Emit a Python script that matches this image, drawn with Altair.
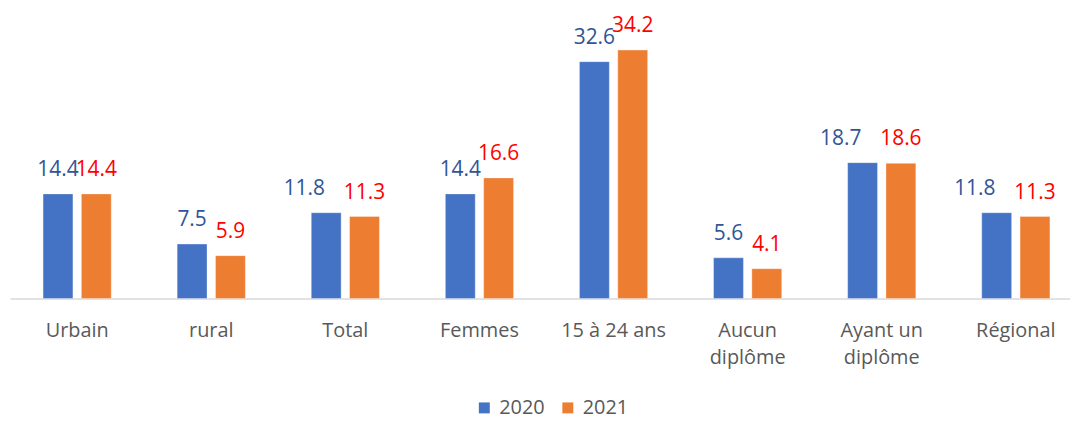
import altair as alt
import pandas as pd

categories = ["Urbain", "rural", "Total", "Femmes", "15 à 24 ans",
              "Aucun diplôme", "Ayant un diplôme", "Régional"]
values_2020 = [14.4, 7.5, 11.8, 14.4, 32.6, 5.6, 18.7, 11.8]
values_2021 = [14.4, 5.9, 11.3, 16.6, 34.2, 4.1, 18.6, 11.3]
years = ["2020", "2021"]
bar_colors = ["#4472C4", "#ED7D31"]
label_colors = ["#2F5597", "#FF0000"]
# 2020 labels that the original nudged to the left to avoid overlap
nudged_2020 = ["Total", "Ayant un diplôme", "Régional"]

rows = []
for c, v0, v1 in zip(categories, values_2020, values_2021):
    rows.append({"cat": c, "year": years[0], "value": v0, "label": f"{v0:.1f}",
                 "nudge": c in nudged_2020})
    rows.append({"cat": c, "year": years[1], "value": v1, "label": f"{v1:.1f}",
                 "nudge": False})
df = pd.DataFrame(rows)

FONT = "Open Sans"

label_expr = ("datum.value == 'Aucun diplôme' ? ['Aucun', 'diplôme'] : "
              "datum.value == 'Ayant un diplôme' ? ['Ayant un', 'diplôme'] : datum.value")

x_enc = alt.X("cat:N", sort=categories, title=None,
              scale=alt.Scale(paddingInner=0.48, paddingOuter=0.1924, align=0.626, round=False),
              axis=alt.Axis(labelAngle=0, ticks=False, tickSize=0, labelPadding=38,
                            labelBaseline="alphabetic", labelFontSize=20,
                            labelColor="#595959", labelFont=FONT, labelLineHeight=27,
                            domainColor="#D9D9D9", domainWidth=1.5,
                            labelExpr=label_expr, grid=False))
xo_enc = alt.XOffset("year:N", sort=years,
                     scale=alt.Scale(paddingInner=0.22, paddingOuter=0.02, round=False))
y_enc = alt.Y("value:Q", scale=alt.Scale(domain=[0, 39], nice=False), axis=None)

base = alt.Chart(df)

bars = base.mark_bar(stroke="#FFFFFF", strokeOpacity=0.35, strokeWidth=1).encode(
    x=x_enc, xOffset=xo_enc, y=y_enc,
    color=alt.Color("year:N", sort=years,
                    scale=alt.Scale(domain=years, range=bar_colors),
                    legend=alt.Legend(title=None, orient="none", direction="horizontal",
                                      legendX=467, legendY=385,
                                      symbolType="square", symbolSize=121,
                                      symbolStrokeWidth=0, labelFontSize=20,
                                      labelFont=FONT, labelColor="#595959",
                                      labelOffset=5, columnPadding=13)),
)

label_color = alt.condition(f"datum.year == '{years[0]}'",
                            alt.value(label_colors[0]), alt.value(label_colors[1]))

texts = base.transform_filter("!datum.nudge").mark_text(
    baseline="alphabetic", dy=-18, fontSize=21, font=FONT).encode(
    x=x_enc, xOffset=xo_enc, y=y_enc, text="label:N", color=label_color,
)

texts_nudged = base.transform_filter("datum.nudge").mark_text(
    baseline="alphabetic", dy=-18, dx=-22, fontSize=21, font=FONT).encode(
    x=x_enc, xOffset=xo_enc, y=y_enc, text="label:N", color=label_color,
)

chart = alt.layer(bars, texts, texts_nudged).properties(
    width=1066, height=285,
    padding={"left": 2, "top": 6, "right": 0, "bottom": 0},
).configure_view(stroke=None)

chart.save("out.html", embed_options={"renderer": "svg", "actions": False})
